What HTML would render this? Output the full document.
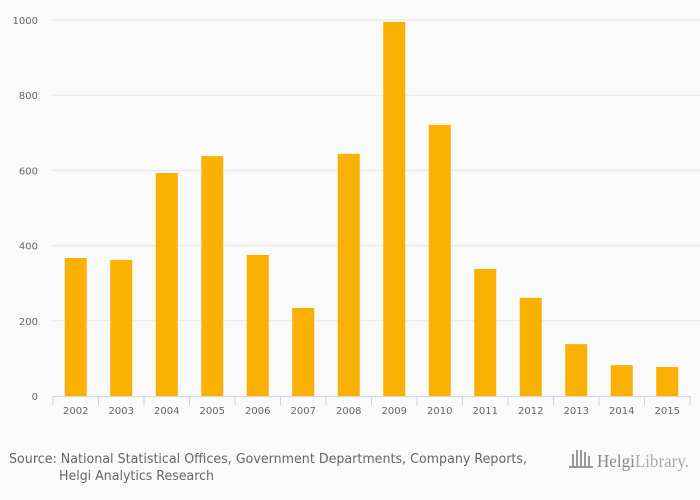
<!DOCTYPE html>
<html><head><meta charset="utf-8"><style>
body{margin:0;background:#fafafa;}
svg{display:block;font-family:"DejaVu Sans","Liberation Sans",sans-serif;}
</style></head><body>
<svg id="c" width="700" height="500">
<rect width="700" height="500" fill="#fafafa"/>
<text x="9" y="463" font-size="13" fill="#666" textLength="518" lengthAdjust="spacingAndGlyphs">Source: National Statistical Offices, Government Departments, Company Reports,</text>
<text x="59" y="480" font-size="13" fill="#666" textLength="155" lengthAdjust="spacingAndGlyphs">Helgi Analytics Research</text>
<g>
<g fill="#999"><rect x="572" y="454" width="2" height="12"/><rect x="576" y="450" width="2" height="16"/><rect x="580" y="450" width="2" height="16"/><rect x="584" y="452" width="2" height="14"/><rect x="588" y="456" width="2" height="10"/><rect x="569" y="466" width="24" height="2"/></g>
<text x="597" y="467" font-size="18" fill="#888" font-family="Liberation Serif,serif" textLength="92" lengthAdjust="spacingAndGlyphs">Helgi<tspan fill="#aaa">Library.</tspan></text>
</g>
</svg>
<script>
const categories=["2002","2003","2004","2005","2006","2007","2008","2009","2010","2011","2012","2013","2014","2015"];
const values=[367,362,593,638,375,234,644,995,721,338,261,138,82,77];
const yTicks=[0,200,400,600,800,1000];
const NS="http://www.w3.org/2000/svg";
const svg=document.getElementById('c');
const x0=53,x1=690,y0=396,y1=20,yMax=1000;
const band=(x1-x0)/categories.length;
function y(v){return y0-(v/yMax)*(y0-y1);}
function xb(i){return x0+i*band;}
function mk(t,a){const e=document.createElementNS(NS,t);for(const k in a)e.setAttribute(k,a[k]);svg.appendChild(e);return e;}
yTicks.forEach(t=>{
  if(t>0){const g=mk('line',{x1:x0,x2:x1+10,y1:y(t),y2:y(t),stroke:'#e6e6e6','stroke-width':1});
  
  }
  const l=mk('text',{x:38,y:y(t)+4,'font-size':10,fill:'#666','text-anchor':'end'});
  l.textContent=t;
  
  
});
values.forEach((v,i)=>{
  const r=mk('rect',{x:xb(i)+band/2-11,y:y(v),width:22,height:y0-y(v),fill:'#f9b000'});
  
  
  const l=mk('text',{x:xb(i)+band/2,y:414,'font-size':10,fill:'#666','text-anchor':'middle'});
  l.textContent=categories[i];
  
  
});
for(let i=0;i<=categories.length;i++){
  const t=mk('line',{x1:xb(i),x2:xb(i),y1:y0,y2:y0+10,stroke:'#ccd6eb'});
  
  
}
const ax=mk('line',{x1:x0,x2:x1,y1:y0+0.5,y2:y0+0.5,stroke:'#ccd6eb'});


</script>
</body></html>
